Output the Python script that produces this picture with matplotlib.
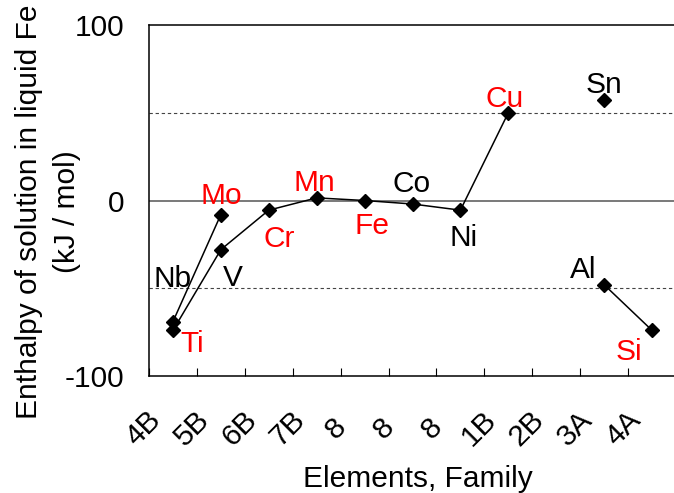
import matplotlib
matplotlib.use("Agg")
import matplotlib.pyplot as plt
import matplotlib.transforms as mtransforms
import numpy as np

plt.rcParams["font.family"] = ["Liberation Sans", "DejaVu Sans"]
plt.rcParams["axes.unicode_minus"] = False

# x categories (element families)
families = ["4B", "5B", "6B", "7B", "8", "8", "8", "1B", "2B", "3A", "4A"]

# element data: name, family index, enthalpy (kJ/mol)
elements = ["Ti", "Nb", "V", "Mo", "Cr", "Mn", "Fe", "Co", "Ni", "Cu", "Sn", "Al", "Si"]
fam_idx = [0, 0, 1, 1, 2, 3, 4, 5, 6, 7, 9, 9, 10]
enthalpy = [-74, -69, -28, -8, -5.5, 1.5, 0, -2, -5.5, 50, 57, -48, -74]
highlight = ["Ti", "Mo", "Cr", "Mn", "Fe", "Cu", "Si"]

# connected series
series = [
    ["Ti", "V", "Cr", "Mn", "Fe", "Co", "Ni", "Cu"],
    ["Nb", "Mo"],
    ["Al", "Si"],
]

# label offsets in pixels (dx, dy of label centre relative to the point)
label_offsets = {
    "Nb": (0, 46), "Ti": (19, -11), "V": (12, -25), "Mo": (0, 22),
    "Cr": (10, -26), "Mn": (-2, 18), "Fe": (7, -22), "Co": (-1, 23),
    "Ni": (3, -25), "Cu": (-4, 17), "Sn": (0, 18), "Al": (-21, 18),
    "Si": (-23, -19),
}

FS = 21.5
W, H = 674, 493
fig = plt.figure(figsize=(W / 100, H / 100), dpi=100)
ax = fig.add_axes([149 / W, 117 / H, (676 - 149) / W, (376 - 25) / H])

lookup = {e: (x, y) for e, x, y in zip(elements, fam_idx, enthalpy)}

# reference lines
ax.axhline(0, color="#555555", lw=1.1, zorder=1)
for yv in (50, -50):
    ax.axhline(yv, color="#444444", lw=0.8, ls=(0, (3, 2.5)), zorder=1)

for s in series:
    xs = [lookup[e][0] for e in s]
    ys = [lookup[e][1] for e in s]
    ax.plot(xs, ys, color="black", lw=1.1, zorder=2)

ax.plot(fam_idx, enthalpy, ls="none", marker="D", ms=7, color="black", zorder=3)

for e, x, y in zip(elements, fam_idx, enthalpy):
    dx, dy = label_offsets[e]
    ax.annotate(e, xy=(x, y), xytext=(dx, dy - 11), textcoords="offset pixels",
                ha="center", va="baseline", fontsize=FS,
                color="red" if e in highlight else "black")

ax.set_xlim(-0.5001, len(families) - 0.5)
ax.set_ylim(-100, 100)

ax.set_yticks([-100, 0, 100])
ax.tick_params(axis="y", length=0, pad=18, labelsize=FS)

ax.set_xticks(np.arange(len(families)) - 0.5)
ax.set_xticklabels(families)
ax.tick_params(axis="x", direction="in", length=6, width=0.8, pad=38, labelsize=FS)
shift = mtransforms.ScaledTranslation(-5 / 100, 0, fig.dpi_scale_trans)
for lab in ax.get_xticklabels():
    lab.set_rotation(45)
    lab.set_rotation_mode("anchor")
    lab.set_ha("center")
    lab.set_va("center")
    lab.set_transform(lab.get_transform() + shift)

for sp in ax.spines.values():
    sp.set_linewidth(1.1)

fig.text(29 / W, 1 - 212 / H, "Enthalpy of solution in liquid Fe", rotation=90,
         ha="center", va="center", fontsize=FS)
fig.text(67 / W, 1 - 212 / H, "(kJ / mol)", rotation=90,
         ha="center", va="center", fontsize=FS)
fig.text(418 / W, 6 / H, "Elements, Family", ha="center", va="baseline", fontsize=FS)

fig.savefig("out.png", dpi=100)
